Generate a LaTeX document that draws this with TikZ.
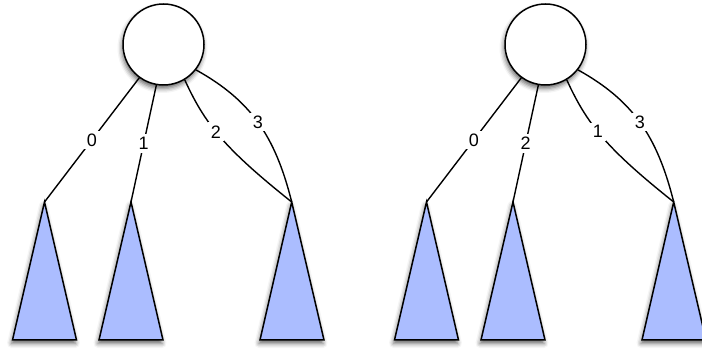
\documentclass[tikz,border=0pt]{standalone}
\usepackage{fontspec}
\setmainfont{Liberation Sans}
\usetikzlibrary{shadows.blur}
\definecolor{trifill}{HTML}{ABBDFF}
\tikzset{
  rootnode/.style={circle, draw=black, line width=1.5pt, fill=white, minimum size=81pt, inner sep=0pt,
    blur shadow={shadow xshift=-1pt, shadow yshift=-3.5pt, shadow blur radius=4.5pt, shadow opacity=60}},
  subtree/.style={draw=black, line width=1.5pt, fill=trifill, line join=miter,
    blur shadow={shadow xshift=-1pt, shadow yshift=-3.5pt, shadow blur radius=4.5pt, shadow opacity=60}},
  edge/.style={draw=black, line width=1.4pt},
  lbl/.style={fill=white, inner sep=3pt, font=\fontsize{18}{18}\selectfont}
}
\begin{document}
\begin{tikzpicture}[x=1pt,y=-1pt]
\useasboundingbox (0,0) rectangle (702,352);
% ---------- left tree ----------
\begin{scope}
  \coordinate (aT1) at (44.5,202);
  \coordinate (aT2) at (131,202);
  \coordinate (aT3) at (291.7,202);
  \path[subtree] (aT1) -- (76.5,340) -- (12.5,340) -- cycle;
  \path[subtree] (aT2) -- (163,340) -- (99,340) -- cycle;
  \path[subtree] (aT3) -- (324,340) -- (260,340) -- cycle;
  \node[rootnode] (aC) at (163.5,44.5) {};
  \draw[edge] (aC.-126) -- node[lbl, pos=0.5] {0} (aT1);
  \draw[edge] (aC.-100) -- node[lbl, pos=0.5] {1} (aT2);
  \draw[edge] (aC.-59.5) .. controls (205,124) and (224,148) .. node[lbl, pos=0.45] {2} (aT3);
  \draw[edge] (aC.-38) .. controls (250,100) and (275,135) .. node[lbl, pos=0.5] {3} (aT3);
\end{scope}
% ---------- right tree ----------
\begin{scope}[xshift=382pt]
  \coordinate (bT1) at (44.5,202);
  \coordinate (bT2) at (131,202);
  \coordinate (bT3) at (291.7,202);
  \path[subtree] (bT1) -- (76.5,340) -- (12.5,340) -- cycle;
  \path[subtree] (bT2) -- (163,340) -- (99,340) -- cycle;
  \path[subtree] (bT3) -- (324,340) -- (260,340) -- cycle;
  \node[rootnode] (bC) at (163.5,44.5) {};
  \draw[edge] (bC.-126) -- node[lbl, pos=0.5] {0} (bT1);
  \draw[edge] (bC.-100) -- node[lbl, pos=0.5] {2} (bT2);
  \draw[edge] (bC.-59.5) .. controls (205,124) and (224,148) .. node[lbl, pos=0.45] {1} (bT3);
  \draw[edge] (bC.-38) .. controls (250,100) and (275,135) .. node[lbl, pos=0.5] {3} (bT3);
\end{scope}
\end{tikzpicture}
\end{document}
